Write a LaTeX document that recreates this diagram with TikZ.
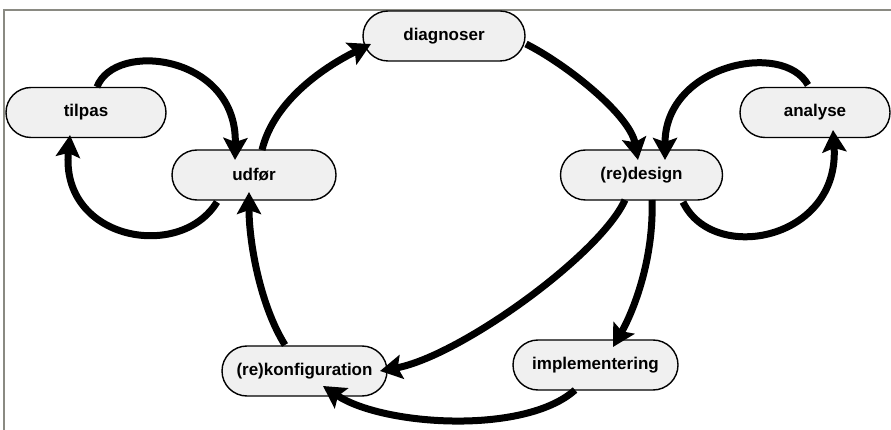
\documentclass[tikz,border=0pt]{standalone}
\usepackage{fontspec}
\setmainfont{Liberation Sans}
\usetikzlibrary{arrows.meta,shapes.misc}

\definecolor{framegray}{RGB}{138,138,130}

\tikzset{
  state/.style={rounded rectangle, draw=black, line width=1.4pt, fill=gray!12,
    minimum width=162pt, minimum height=50pt, inner sep=0pt,
    font=\fontsize{17}{20}\selectfont\bfseries},
  flow/.style={line width=7pt, draw=black,
    -{Stealth[length=22pt,width=24pt,inset=4pt]}},
  frame/.style={draw=framegray, line width=2pt}
}

\begin{document}
\begin{tikzpicture}[x=1pt,y=-1pt]
  \useasboundingbox (0,0) rectangle (891,430);

  % window frame on the top and left side
  \draw[frame] (4,431) -- (4,10) -- (892,10);

  % states of the cycle
  \node[state] (diag)   at (444,36)    {diagnoser};
  \node[state, minimum width=160pt] (tilpas) at (86,112.5) {tilpas};
  \node[state, minimum width=164pt] (udfor)  at (254,175)  {udfør};
  \node[state] (design) at (641.5,175) {(re)design};
  \node[state, minimum width=150pt] (analyse) at (815,112.5) {analyse};
  \node[state, minimum width=165pt] (impl)   at (595.5,365) {implementering};
  \node[state, minimum width=165pt] (konfig) at (304.5,371) {(re)konfiguration};

  % main cycle
  \draw[flow] ([shift={(8,-25)}]udfor.center)
    .. controls +(12,-50) and +(-45,22) .. ([shift={(-73,8)}]diag.center);
  \draw[flow] ([shift={(82,8)}]diag.center)
    .. controls +(40,20) and +(-8,-45) .. ([shift={(-3.5,-15)}]design.center);
  \draw[flow] ([shift={(10.5,25)}]design.center)
    .. controls +(2,60) and +(20,-35) .. ([shift={(17.5,-18)}]impl.center);
  \draw[flow] ([shift={(-16.5,25)}]design.center)
    .. controls +(-25,55) and +(80,-15) .. ([shift={(75.5,0)}]konfig.center);
  \draw[flow] ([shift={(-20.5,25)}]impl.center)
    .. controls +(-50,45) and +(60,40) .. ([shift={(18.5,15)}]konfig.center);
  \draw[flow] ([shift={(-19.5,-26)}]konfig.center)
    .. controls +(-25,-40) and +(0,50) .. ([shift={(-5,17)}]udfor.center);

  % side loops
  \draw[flow] ([shift={(-37,27)}]udfor.center)
    .. controls +(-37,60) and +(-10,105) .. ([shift={(-16,22.5)}]tilpas.center);
  \draw[flow] ([shift={(11,-25.5)}]tilpas.center)
    .. controls +(18,-47) and +(2,-105) .. ([shift={(-19,-15)}]udfor.center);
  \draw[flow] ([shift={(41.5,27)}]design.center)
    .. controls +(30,63) and +(7,110) .. ([shift={(18,17.5)}]analyse.center);
  \draw[flow] ([shift={(-7,-27.5)}]analyse.center)
    .. controls +(-25,-45) and +(0,-95) .. ([shift={(23.5,-15)}]design.center);
\end{tikzpicture}
\end{document}
